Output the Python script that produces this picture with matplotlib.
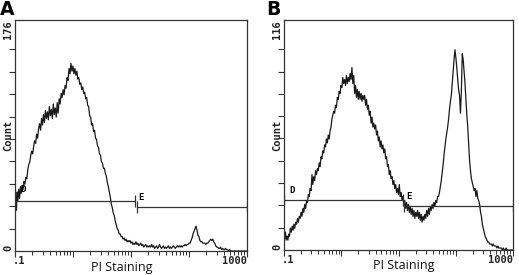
import numpy as np
import matplotlib
matplotlib.use("Agg")
import matplotlib.pyplot as plt
from matplotlib.ticker import LogLocator, NullFormatter


# =========================
# data
# =========================
a_pi = [
    0.100, 0.103, 0.106, 0.109, 0.112, 0.116, 0.120, 0.124, 0.128, 0.133,
    0.138, 0.143, 0.148, 0.154, 0.160, 0.166, 0.173, 0.180, 0.187, 0.194,
    0.202, 0.210, 0.218, 0.227, 0.236, 0.245, 0.255, 0.265, 0.276, 0.287,
    0.298, 0.310, 0.322, 0.335, 0.348, 0.362, 0.376, 0.391, 0.407, 0.423,
    0.440, 0.457, 0.475, 0.494, 0.514, 0.534, 0.555, 0.577, 0.600, 0.624,
    0.649, 0.675, 0.702, 0.730, 0.759, 0.789, 0.820, 0.853, 0.887, 0.922,
    0.959, 0.997, 1.037, 1.078, 1.121, 1.166, 1.212, 1.260, 1.310, 1.362,
    1.417, 1.473, 1.532, 1.593, 1.656, 1.722, 1.791, 1.862, 1.936, 2.013,
    2.093, 2.177, 2.263, 2.354, 2.447, 2.545, 2.646, 2.752, 2.861, 2.975,
    3.094, 3.217, 3.345, 3.478, 3.617, 3.761, 3.911, 4.067, 4.229, 4.397,
    4.572, 4.755, 4.944, 5.141, 5.346, 5.559, 5.780, 6.011, 6.250, 6.499,
    6.758, 7.028, 7.308, 7.599, 7.902, 8.217, 8.544, 8.885, 9.239, 9.607,
    9.990, 10.39, 10.80, 11.23, 11.68, 12.15, 12.63, 13.13, 13.66, 14.20,
    14.77, 15.36, 15.97, 16.60, 17.27, 17.95, 18.67, 19.42, 20.19, 21.00,
    21.83, 22.70, 23.61, 24.55, 25.53, 26.55, 27.61, 28.71, 29.85, 31.04,
    32.28, 33.57, 34.91, 36.30, 37.75, 39.25, 40.82, 42.45, 44.14, 45.90,
    47.73, 49.63, 51.61, 53.67, 55.81, 58.04, 60.35, 62.76, 65.26, 67.87,
    70.57, 73.39, 76.32, 79.36, 82.53, 85.82, 89.24, 92.80, 96.51, 100.4,
    104.4, 108.5, 112.9, 117.4, 122.0, 126.9, 132.0, 137.2, 142.7, 148.4,
    154.3, 160.5, 166.9, 173.5, 180.5, 187.7, 195.1, 202.9, 211.0, 219.5,
    228.2, 237.3, 246.8, 256.6, 266.9, 277.5, 288.6, 300.1, 312.1, 324.6,
    337.5, 351.0, 365.0, 379.5, 394.7, 410.4, 426.8, 443.9, 461.6, 480.0,
    500, 530, 600, 700, 850, 1000,
]
a_count = [
    36, 42, 31, 45, 38, 47, 40, 49, 44, 50,
    47, 53, 51, 56, 55, 62, 66, 68, 73, 76,
    74, 80, 84, 82, 89, 86, 93, 97, 92, 101,
    96, 104, 98, 107, 101, 106, 100, 110, 103, 108,
    101, 112, 104, 109, 102, 113, 105, 116, 112, 120,
    117, 123, 119, 126, 124, 132, 130, 139, 135, 143,
    137, 141, 135, 139, 134, 137, 131, 132, 127, 128,
    123, 125, 120, 121, 116, 117, 111, 110, 103, 102,
    96, 97, 91, 92, 86, 85, 80, 79, 74, 73,
    68, 67, 63, 63, 59, 57, 52, 49, 45, 41,
    36, 33, 29, 27, 23, 20, 17, 16, 13, 13,
    11, 11, 9, 10, 8, 9, 7, 8, 7, 8,
    6, 7, 5, 6, 5, 7, 5, 6, 4, 5,
    6, 4, 5, 3, 4, 5, 3, 4, 3, 4,
    3, 5, 3, 4, 2, 3, 4, 2, 3, 5,
    3, 2, 3, 4, 2, 3, 2, 3, 4, 2,
    3, 2, 3, 4, 3, 2, 3, 4, 3, 4,
    3, 4, 3, 4, 4, 5, 4, 5, 5, 6,
    6, 8, 10, 13, 15, 17, 19, 16, 12, 11,
    8, 7, 7, 6, 6, 6, 5, 6, 6, 7,
    8, 9, 8, 9, 7, 6, 4, 3, 3, 2,
    2, 3, 1, 2, 1, 1, 2, 1, 1, 0,
    1, 0, 0, 0, 0, 0,
]

b_pi = [
    0.100, 0.103, 0.106, 0.109, 0.113, 0.117, 0.121, 0.125, 0.129, 0.134,
    0.139, 0.144, 0.149, 0.154, 0.160, 0.166, 0.172, 0.178, 0.185, 0.192,
    0.199, 0.206, 0.214, 0.222, 0.230, 0.239, 0.248, 0.257, 0.266, 0.276,
    0.286, 0.297, 0.308, 0.319, 0.331, 0.343, 0.356, 0.369, 0.383, 0.397,
    0.412, 0.427, 0.443, 0.459, 0.476, 0.494, 0.512, 0.531, 0.551, 0.572,
    0.593, 0.615, 0.638, 0.662, 0.686, 0.712, 0.738, 0.766, 0.794, 0.824,
    0.855, 0.886, 0.919, 0.954, 0.989, 1.026, 1.064, 1.104, 1.145, 1.188,
    1.232, 1.278, 1.326, 1.376, 1.427, 1.480, 1.536, 1.593, 1.652, 1.714,
    1.778, 1.845, 1.913, 1.985, 2.059, 2.136, 2.216, 2.298, 2.384, 2.473,
    2.566, 2.661, 2.761, 2.864, 2.971, 3.082, 3.197, 3.316, 3.440, 3.569,
    3.702, 3.840, 3.984, 4.133, 4.287, 4.447, 4.613, 4.785, 4.964, 5.149,
    5.342, 5.541, 5.748, 5.963, 6.185, 6.416, 6.656, 6.905, 7.163, 7.430,
    7.708, 7.996, 8.294, 8.604, 8.925, 9.259, 9.604, 9.963, 10.33, 10.72,
    11.12, 11.54, 11.97, 12.41, 12.88, 13.36, 13.86, 14.37, 14.91, 15.47,
    16.05, 16.65, 17.27, 17.91, 18.58, 19.28, 20.00, 20.75, 21.52, 22.33,
    23.16, 24.03, 24.92, 25.86, 26.82, 27.83, 28.87, 29.94, 31.06, 32.22,
    33.43, 34.68, 35.98, 37.32, 38.72, 40.16, 41.66, 43.22, 44.84, 46.51,
    48.25, 50.05, 51.92, 53.87, 55.88, 57.97, 60.13, 62.38, 64.71, 67.13,
    69.64, 72.24, 74.94, 77.74, 80.65, 83.66, 86.79, 90.03, 93.40, 96.89,
    100.5, 104.3, 108.2, 112.2, 116.4, 120.8, 125.3, 130.0, 134.8, 139.9,
    145.1, 150.5, 156.2, 162.0, 168.1, 174.4, 180.9, 187.6, 194.6, 201.9,
    209.5, 217.3, 225.4, 233.9, 242.6, 251.7, 261.1, 270.9, 281.0, 291.5,
    302.4, 313.7, 325.5, 337.6, 350.3, 363.4, 377.0, 391.1, 405.7, 420.9,
    436.6, 452.9, 469.9, 487.5, 505.7, 524.6, 544.2, 564.6, 585.7, 607.6,
    630.3, 653.9, 678.4, 703.8, 730.1, 757.4, 785.7, 815.1, 845.6, 877.2,
    910.0, 944.0, 1000,
]
b_count = [
    8, 6, 9, 5, 7, 5, 8, 7, 11, 9,
    12, 10, 13, 11, 14, 13, 16, 14, 17, 16,
    19, 17, 21, 19, 23, 21, 25, 24, 28, 27,
    31, 30, 38, 33, 37, 35, 40, 38, 41, 40,
    44, 42, 47, 46, 50, 49, 53, 52, 56, 54,
    58, 56, 60, 62, 66, 68, 70, 69, 73, 72,
    77, 76, 80, 79, 83, 82, 87, 84, 86, 83,
    88, 84, 87, 85, 89, 86, 92, 84, 88, 79,
    83, 77, 81, 76, 80, 76, 79, 75, 78, 76,
    78, 73, 76, 71, 73, 68, 70, 64, 67, 62,
    64, 61, 63, 58, 60, 55, 57, 52, 55, 51,
    53, 49, 51, 46, 47, 42, 43, 38, 40, 36,
    37, 33, 35, 31, 33, 29, 31, 28, 33, 27,
    29, 25, 27, 23, 25, 21, 24, 20, 23, 19,
    22, 18, 21, 17, 20, 16, 19, 17, 20, 16,
    19, 15, 18, 14, 17, 15, 18, 16, 20, 17,
    21, 18, 22, 20, 23, 21, 24, 22, 25, 24,
    27, 27, 29, 32, 35, 39, 43, 48, 52, 56,
    59, 62, 66, 71, 75, 78, 84, 90, 96, 101,
    97, 92, 86, 81, 78, 69, 80, 99, 96, 90,
    84, 76, 68, 62, 53, 45, 40, 36, 34, 32,
    30, 31, 27, 30, 26, 25, 23, 19, 17, 13,
    11, 9, 7, 6, 5, 4, 4, 3, 3, 3,
    2, 3, 2, 2, 2, 1, 2, 1, 1, 1,
    1, 0, 1, 0, 0, 1, 0, 0, 0, 0,
    0, 0, 0,
]

# gates: (start, end, level)
a_gate_d = (0.1, 11.7, 38.3)
a_gate_e = (12.5, 1000, 33.8)
b_gate_d = (0.1, 11.9, 25.2)
b_gate_e = (12.4, 1000, 22.3)

a_ymax = 176
b_ymax = 116

mono = "DejaVu Sans Mono"
line_col = "#1a1a1a"


# =========================
# one histogram panel
# =========================
def draw_panel(ax, pi, count, ymax, gate_d, gate_e, d_pos, e_pos):
    ax.plot(pi, count, color=line_col, lw=0.9)

    for (x0, x1, lev) in (gate_d, gate_e):
        ax.plot([x0, x1], [lev, lev], color="#333333", lw=0.9)
        ax.plot([x0, x1], [lev, lev], ls="none", marker="|",
                ms=8, mew=0.9, color="#333333")

    ax.text(d_pos[0], d_pos[1], "D", fontfamily=mono, fontweight="bold",
            fontsize=6.5, ha="left", va="center")
    ax.text(e_pos[0], e_pos[1], "E", fontfamily=mono, fontweight="bold",
            fontsize=6.5, ha="left", va="center")

    ax.set_xscale("log")
    ax.set_xlim(0.1, 1000)
    ax.set_ylim(0, ymax)

    ax.xaxis.set_major_locator(LogLocator(base=10))
    ax.xaxis.set_minor_locator(LogLocator(base=10, subs=np.arange(2, 10)))
    ax.xaxis.set_major_formatter(NullFormatter())
    ax.xaxis.set_minor_formatter(NullFormatter())
    ax.set_yticks(np.arange(1, 10) * 0.097 * ymax)
    ax.set_yticklabels([])

    ax.tick_params(axis="both", which="major", direction="out",
                   length=4, width=0.8, color="#333333")
    ax.tick_params(axis="x", which="minor", direction="out",
                   length=3, width=0.7, color="#333333")
    for sp in ax.spines.values():
        sp.set_color("#333333")
        sp.set_linewidth(0.9)

    # axis texts in the old cytometer font
    kw = dict(fontfamily=mono, fontweight="bold", fontsize=7.5,
              color="#222222")
    ax.annotate(str(ymax), xy=(0, 1), xycoords="axes fraction",
                xytext=(-5, 0), textcoords="offset points",
                rotation=90, ha="center", va="top", **kw)
    ax.annotate("Count", xy=(0, 0.5), xycoords="axes fraction",
                xytext=(-5, 0), textcoords="offset points",
                rotation=90, ha="center", va="center", **kw)
    ax.annotate("0", xy=(0, 0), xycoords="axes fraction",
                xytext=(-5, 0), textcoords="offset points",
                rotation=90, ha="center", va="bottom", **kw)
    ax.annotate(".1", xy=(0.1, 0), xycoords=ax.get_xaxis_transform(),
                xytext=(-1.5, -7), textcoords="offset points",
                ha="left", va="center", **kw)
    ax.annotate("1000", xy=(1000, 0), xycoords=ax.get_xaxis_transform(),
                xytext=(0, -7), textcoords="offset points",
                ha="right", va="center", **kw)


fig = plt.figure(figsize=(5.19, 2.75), dpi=100)

ax_a = fig.add_axes([15 / 519, 24 / 275, 232 / 519, 231 / 275])
ax_b = fig.add_axes([284 / 519, 25 / 275, 229 / 519, 230 / 275])

draw_panel(ax_a, a_pi, a_count, a_ymax, a_gate_d, a_gate_e,
           d_pos=(0.125, 47), e_pos=(13.6, 41))
draw_panel(ax_b, b_pi, b_count, b_ymax, b_gate_d, b_gate_e,
           d_pos=(0.122, 30), e_pos=(13.8, 27))

fig.text(122 / 519, 1 - 268 / 275, "PI Staining", fontfamily="Open Sans",
         fontsize=9, ha="center", va="center", color="#111111")
fig.text(404 / 519, 1 - 265 / 275, "PI Staining", fontfamily="Open Sans",
         fontsize=9, ha="center", va="center", color="#111111")

fig.text(0.0, 1.0, "A", fontsize=13.5, fontweight="bold", ha="left", va="top")
fig.text(266 / 519, 1.0, "B", fontsize=13.5, fontweight="bold",
         ha="left", va="top")

fig.savefig("out.png", dpi=100)
